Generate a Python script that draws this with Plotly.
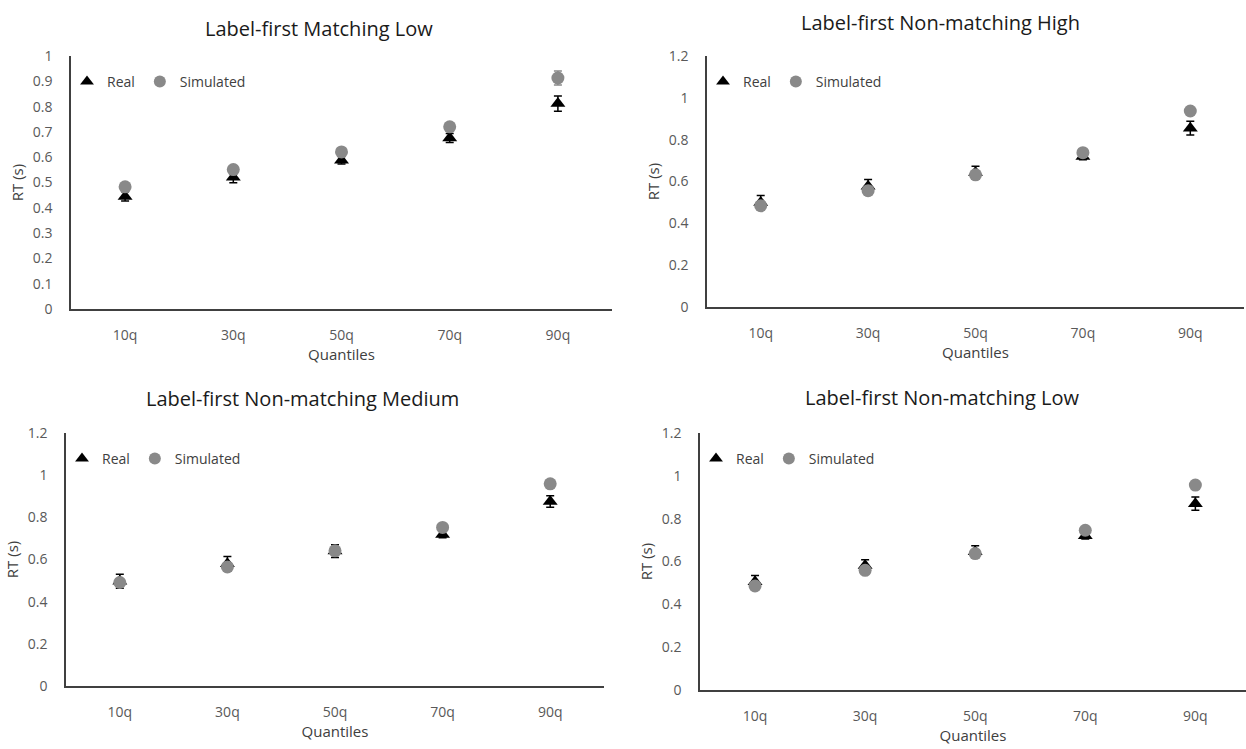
import plotly.graph_objects as go

# ---------------- data ----------------
quantiles = ["10q", "30q", "50q", "70q", "90q"]

titles = [
    "Label-first Matching Low",
    "Label-first Non-matching High",
    "Label-first Non-matching Medium",
    "Label-first Non-matching Low",
]

real_matching_low = [0.445, 0.521, 0.588, 0.676, 0.812]
real_matching_low_err = [0.018, 0.022, 0.015, 0.018, 0.030]
sim_matching_low = [0.483, 0.551, 0.621, 0.720, 0.913]
sim_matching_low_err = [0.010, 0.010, 0.010, 0.012, 0.028]

real_nonmatch_high = [0.500, 0.577, 0.643, 0.719, 0.855]
real_nonmatch_high_err = [0.033, 0.032, 0.030, 0.015, 0.033]
sim_nonmatch_high = [0.484, 0.556, 0.632, 0.738, 0.937]
sim_nonmatch_high_err = [0.010, 0.010, 0.010, 0.010, 0.012]

real_nonmatch_medium = [0.497, 0.580, 0.640, 0.718, 0.875]
real_nonmatch_medium_err = [0.033, 0.034, 0.030, 0.015, 0.027]
sim_nonmatch_medium = [0.491, 0.565, 0.641, 0.752, 0.959]
sim_nonmatch_medium_err = [0.010, 0.010, 0.012, 0.010, 0.010]

real_nonmatch_low = [0.505, 0.581, 0.646, 0.720, 0.870]
real_nonmatch_low_err = [0.030, 0.027, 0.028, 0.015, 0.031]
sim_nonmatch_low = [0.486, 0.559, 0.637, 0.746, 0.957]
sim_nonmatch_low_err = [0.010, 0.010, 0.010, 0.010, 0.010]

y_axis_max = [1.0, 1.2, 1.2, 1.2]
y_axis_step = [0.1, 0.2, 0.2, 0.2]

real_series = [real_matching_low, real_nonmatch_high, real_nonmatch_medium, real_nonmatch_low]
real_errors = [real_matching_low_err, real_nonmatch_high_err, real_nonmatch_medium_err, real_nonmatch_low_err]
sim_series = [sim_matching_low, sim_nonmatch_high, sim_nonmatch_medium, sim_nonmatch_low]
sim_errors = [sim_matching_low_err, sim_nonmatch_high_err, sim_nonmatch_medium_err, sim_nonmatch_low_err]

# ---------------- layout geometry (pixels) ----------------
W, H = 1246, 749
# (left, right, top, bottom) of each plot area in pixels
boxes = [
    (71, 612, 56, 309),
    (707, 1244, 56, 307),
    (66, 604, 433, 686),
    (700, 1246, 433, 690),
]
x_ranges = [[-0.5, 4.5], [-0.5, 4.5], [-0.5, 4.5], [-0.5, 4.46]]
title_pos = [(319, 28), (940, 22), (302, 398), (942, 397)]

FONT = "Open Sans"
REAL_COLOR = "#000000"
SIM_COLOR = "#898989"
AXIS_COLOR = "#404040"
TICK_COLOR = "#595959"

fig = go.Figure()
layout = dict(
    width=W, height=H,
    margin=dict(l=0, r=0, t=0, b=0, autoexpand=False),
    paper_bgcolor="white", plot_bgcolor="white",
    font=dict(family=FONT, color=TICK_COLOR),
    annotations=[],
    showlegend=True,
)

for i in range(4):
    l, r, t, b = boxes[i]
    xa = "x" if i == 0 else f"x{i+1}"
    ya = "y" if i == 0 else f"y{i+1}"
    lg = "legend" if i == 0 else f"legend{i+1}"

    fig.add_trace(go.Scatter(
        x=quantiles, y=real_series[i], mode="markers", name="Real",
        xaxis=xa, yaxis=ya, legend=lg,
        marker=dict(symbol="triangle-up", size=13, color=REAL_COLOR),
        error_y=dict(type="data", array=real_errors[i], color=REAL_COLOR,
                     thickness=1.5, width=4),
    ))
    fig.add_trace(go.Scatter(
        x=quantiles, y=sim_series[i], mode="markers", name="Simulated",
        xaxis=xa, yaxis=ya, legend=lg,
        marker=dict(symbol="circle", size=13, color=SIM_COLOR),
        error_y=dict(type="data", array=sim_errors[i], color=SIM_COLOR,
                     thickness=1.5, width=4),
    ))

    xkey = "xaxis" if i == 0 else f"xaxis{i+1}"
    ykey = "yaxis" if i == 0 else f"yaxis{i+1}"
    layout[xkey] = dict(
        domain=[l / W, min(r / W, 1.0)], anchor=ya, type="category",
        range=x_ranges[i], showline=True, linecolor=AXIS_COLOR, linewidth=1.5,
        showgrid=False, zeroline=False, ticks="", ticklabelstandoff=12,
        automargin=False,
        tickfont=dict(family=FONT, size=14, color=TICK_COLOR),
        title=dict(text="Quantiles", standoff=4,
                   font=dict(family=FONT, size=15, color=AXIS_COLOR)),
        fixedrange=True,
    )
    layout[ykey] = dict(
        domain=[1 - b / H, 1 - t / H], anchor=xa,
        range=[0, y_axis_max[i]], dtick=y_axis_step[i], tick0=0,
        showline=True, linecolor=AXIS_COLOR, linewidth=1.5,
        showgrid=False, zeroline=False, ticks="", ticklabelstandoff=14,
        automargin=False,
        tickfont=dict(family=FONT, size=14, color=TICK_COLOR),
        title=dict(text="RT (s)", standoff=6,
                   font=dict(family=FONT, size=15, color=AXIS_COLOR)),
        fixedrange=True,
    )
    layout[lg] = dict(
        x=(l - 4) / W, y=1 - (t + 10) / H, xanchor="left", yanchor="top",
        orientation="h", bgcolor="rgba(0,0,0,0)", borderwidth=0,
        font=dict(family=FONT, size=14, color=AXIS_COLOR),
        itemsizing="constant", tracegroupgap=0, itemclick=False,
    )
    tx, ty = title_pos[i]
    layout["annotations"].append(dict(
        text=titles[i], x=tx / W, y=1 - ty / H, xref="paper", yref="paper",
        xanchor="center", yanchor="middle", showarrow=False,
        font=dict(family=FONT, size=20, color="#1a1a1a"),
    ))

fig.update_layout(**layout)
fig.write_html("out.html", config={"displayModeBar": False},
               post_script="document.body.style.margin='0';")
